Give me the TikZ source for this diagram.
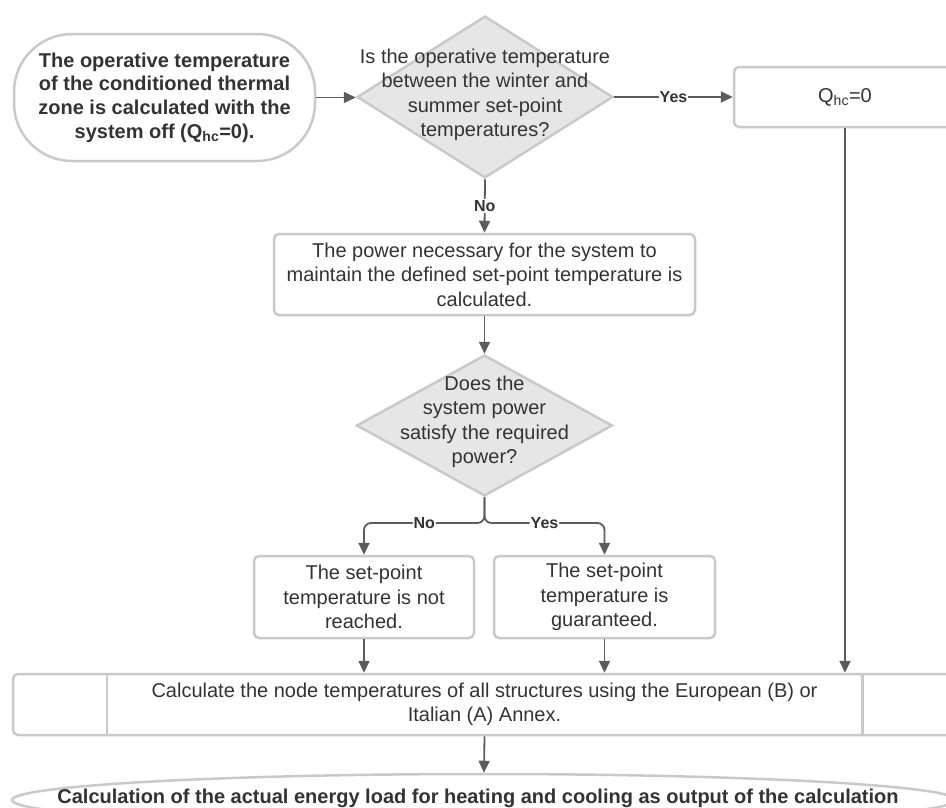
\documentclass[tikz,border=0pt]{standalone}
\usepackage{fontspec}
\setmainfont{Liberation Sans}
\usetikzlibrary{shapes.geometric,arrows.meta}
\definecolor{linegray}{HTML}{5C5C5C}
\definecolor{boxgray}{HTML}{C9C9C9}
\definecolor{decgray}{HTML}{E6E6E6}
\definecolor{txtgray}{HTML}{333333}

\begin{document}
\begin{tikzpicture}[x=1pt, y=-1pt,
        every node/.style={text=txtgray, font=\fontsize{20pt}{24.5pt}\selectfont},
        startbox/.style={draw=boxgray, line width=2.5pt, fill=white, rounded corners=58pt,
            minimum width=301pt, minimum height=127pt, align=center,
            font=\bfseries\fontsize{20pt}{23.7pt}\selectfont},
        decision/.style={diamond, draw=boxgray, line width=2.5pt, fill=decgray,
            minimum width=256pt, minimum height=162pt, inner sep=0pt},
        qtext/.style={align=center, inner sep=0pt},
        process/.style={rectangle, draw=boxgray, line width=2.5pt, fill=white,
            rounded corners=5pt, align=center, inner sep=0pt},
        flow/.style={draw=linegray, line width=1.8pt, -{Triangle[length=12pt,width=11pt]}},
        lbl/.style={fill=white, inner sep=1pt, font=\bfseries\fontsize{16pt}{16pt}\selectfont}]
        \useasboundingbox (0, 0) rectangle (946, 807);
        \clip (0, 0) rectangle (946, 807);

        \node (start) [startbox] at (164.5, 97.5) {The operative temperature\\of the conditioned thermal\\zone is calculated with the\\system off (Q\textsubscript{hc}=0).};
        \node (d1) [decision] at (485, 97) {};
        \node (d1text) [qtext] at (485, 95) {Is the operative temperature\\between the winter and\\summer set-point\\temperatures?};
        \node (qhc) [process, minimum width=222pt, minimum height=60pt] at (845, 97) {Q\textsubscript{hc}=0};

        \node (power) [process, minimum width=421pt, minimum height=81pt] at (484.5, 274.5) {The power necessary for the system to\\maintain the defined set-point temperature is\\calculated.};
        \node (d2) [decision, minimum height=141pt] at (484.5, 425.5) {};
        \node (d2text) [qtext] at (484.5, 422) {Does the\\system power\\satisfy the required\\power?};
        \coordinate (fork) at (484.5, 523);

        \node (notreached) [process, minimum width=220pt, minimum height=82pt] at (364, 597) {The set-point\\temperature is not\\reached.};
        \node (guaranteed) [process, minimum width=221pt, minimum height=82pt] at (604.5, 597) {The set-point\\temperature is\\guaranteed.};

        \node (nodetemp) [process, minimum width=943pt, minimum height=61pt] at (484.5, 704.5) {Calculate the node temperatures of all structures using the European (B) or\\Italian (A) Annex.};
        \draw [draw=boxgray, line width=2.5pt] ([xshift=95pt]nodetemp.north west) -- ([xshift=95pt]nodetemp.south west);
        \draw [draw=boxgray, line width=2.5pt] ([xshift=-95pt]nodetemp.north east) -- ([xshift=-95pt]nodetemp.south east);

        \node (output) [ellipse, draw=boxgray, line width=2.5pt, fill=white, minimum width=944pt, minimum height=52pt, inner sep=0pt] at (484, 800) {};
        \node (outtext) [inner sep=0pt, font=\bfseries\fontsize{20pt}{24pt}\selectfont] at (478, 798) {Calculation of the actual energy load for heating and cooling as output of the calculation};

        \draw [flow] (start.east) -- (start.east -| d1.west);
        \draw [flow] (d1.east) -- node [lbl] {Yes} (d1.east -| qhc.west);
        \draw [flow] (d1.south) -- node [lbl] {No} (power.north);
        \draw [flow] (power.south) -- (d2.north);
        \draw [flow, rounded corners=7pt] (d2.south) -- (fork) -| node [lbl, pos=0.25] {No} (notreached.north);
        \draw [flow, rounded corners=7pt] (d2.south) -- (fork) -| node [lbl, pos=0.25] {Yes} (guaranteed.north);
        \draw [flow] (notreached.south) -- (notreached.south |- nodetemp.north);
        \draw [flow] (guaranteed.south) -- (guaranteed.south |- nodetemp.north);
        \draw [flow] (qhc.south) -- (qhc.south |- nodetemp.north);
        \draw [flow] (nodetemp.south) -- (output.north);
\end{tikzpicture}
\end{document}
